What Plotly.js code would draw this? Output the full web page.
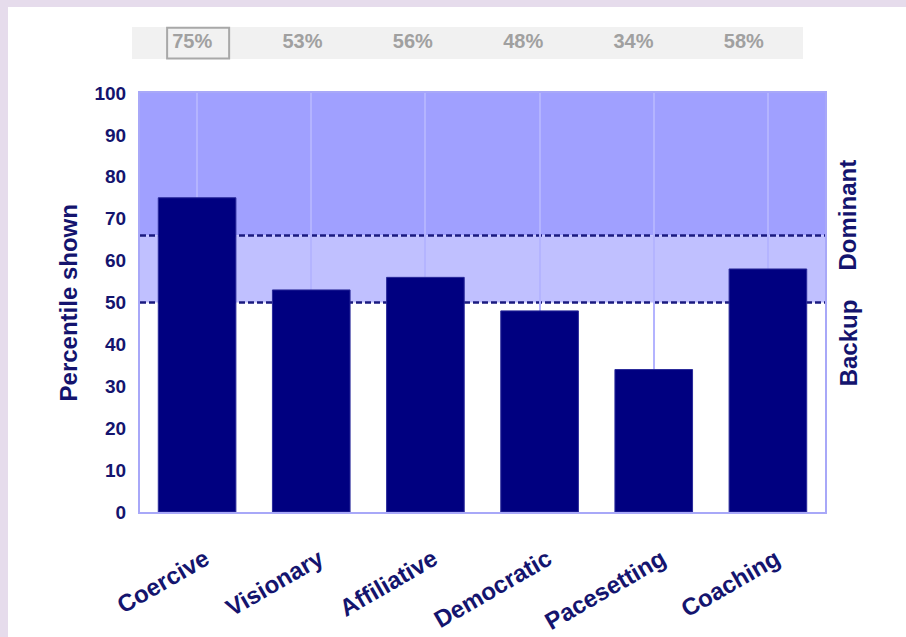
<!DOCTYPE html>
<html>
<head>
<meta charset="utf-8">
<script src="https://cdn.plot.ly/plotly-3.0.1.min.js"></script>
<style>
  html, body { margin: 0; padding: 0; background: #e6dcec; width: 906px; height: 637px; overflow: hidden; }
  #chart { position: absolute; left: 8px; top: 7px; width: 898px; height: 630px; background: #ffffff; }
</style>
</head>
<body>
<div id="chart"></div>
<script>
// ---- data ----
const styles = ["Coercive", "Visionary", "Affiliative", "Democratic", "Pacesetting", "Coaching"];
const percentiles = [75, 53, 56, 48, 34, 58];
const backupLevel = 50;     // lower dashed line
const dominantLevel = 66;   // upper dashed line
const yTicks = [0, 10, 20, 30, 40, 50, 60, 70, 80, 90, 100];
const bandLabels = ["Dominant", "Backup"];
const bandLabelValues = [71, 40.5];
const highlightIndex = 0;

const navy = "#14146e";
const FONT = "Arial, 'Liberation Sans', sans-serif";

const barTrace = {
  type: "bar",
  x: styles,
  y: percentiles,
  width: 0.68,
  marker: { color: "#000080", line: { color: "#2a2a9a", width: 1 } },
  hoverinfo: "x+y",
  xaxis: "x", yaxis: "y",
  showlegend: false
};

const pctTrace = {
  type: "scatter",
  mode: "text",
  x: styles,
  y: styles.map(() => 0.5),
  text: percentiles.map(v => v + "%"),
  textposition: "middle center",
  textfont: { family: FONT, size: 20, color: "#a0a0a0", weight: "bold" },
  xaxis: "x2", yaxis: "y2",
  hoverinfo: "skip",
  showlegend: false
};

const shapes = [
  // dominant band
  { type: "rect", xref: "x domain", yref: "y", x0: 0, x1: 1.002, y0: dominantLevel, y1: 100,
    fillcolor: "#a0a0ff", line: { width: 0 }, layer: "below" },
  // backup band
  { type: "rect", xref: "x domain", yref: "y", x0: 0, x1: 1.002, y0: backupLevel, y1: dominantLevel,
    fillcolor: "#c0c0ff", line: { width: 0 }, layer: "below" },
  // dashed lines
  { type: "line", xref: "x domain", yref: "y", x0: 0, x1: 1, y0: dominantLevel, y1: dominantLevel,
    line: { color: "#1a1a80", width: 2.5, dash: "6px,3px" }, layer: "below" },
  { type: "line", xref: "x domain", yref: "y", x0: 0, x1: 1, y0: backupLevel, y1: backupLevel,
    line: { color: "#1a1a80", width: 2.5, dash: "6px,3px" }, layer: "below" },
  // percentage strip background
  { type: "rect", xref: "x2 domain", yref: "y2 domain", x0: -0.0076, x1: 1.006, y0: 0, y1: 1,
    fillcolor: "#f1f1f1", line: { width: 0 }, layer: "below" },
  // highlight box around first percentage
  { type: "rect", xref: "x2", yref: "y2 domain", x0: highlightIndex - 0.227, x1: highlightIndex + 0.335, y0: 0.02, y1: 0.98,
    fillcolor: "rgba(0,0,0,0)", line: { color: "#a8a8a8", width: 2 }, layer: "above" }
];

const annotations = bandLabels.map((t, i) => ({
  text: t,
  xref: "paper", yref: "y",
  x: 0.9664, y: bandLabelValues[i],
  xanchor: "center", yanchor: "middle",
  textangle: -90,
  showarrow: false,
  font: { family: FONT, size: 24, color: navy, weight: "bold" }
}));
annotations.push({
  text: "Percentile shown",
  xref: "paper", yref: "paper",
  x: -0.0401, y: 0.4258,
  xanchor: "center", yanchor: "middle",
  textangle: -90,
  showarrow: false,
  font: { family: FONT, size: 24, color: navy, weight: "bold" }
});

const layout = {
  width: 898, height: 630,
  margin: { l: 92, r: 32, t: 13, b: 125 },
  paper_bgcolor: "#ffffff",
  plot_bgcolor: "rgba(0,0,0,0)",
  font: { family: FONT, color: navy },
  bargap: 0.32,
  xaxis: {
    domain: [0.05168, 0.93669],
    type: "category",
    showgrid: true, gridcolor: "#b4b4ff", gridwidth: 2,
    showline: true, mirror: true, linecolor: "#a8a8f8", linewidth: 2,
    ticks: "", tickangle: -30,
    ticklabelstandoff: 22, ticklabelshift: 8,
    tickfont: { family: FONT, size: 24, color: navy, weight: "bold" },
    zeroline: false, automargin: false, fixedrange: true
  },
  yaxis: {
    domain: [0, 0.8516],
    range: [0, 100],
    tickvals: yTicks,
    showgrid: false, zeroline: false,
    showline: true, mirror: true, linecolor: "#a8a8f8", linewidth: 2,
    ticks: "", ticklabelstandoff: 8,
    tickfont: { family: FONT, size: 19, color: navy, weight: "bold" },
    automargin: false, fixedrange: true
  },
  xaxis2: {
    domain: [0.0478, 0.9031],
    type: "category",
    range: [-0.5, styles.length - 0.5],
    anchor: "y2",
    visible: false, automargin: false, fixedrange: true
  },
  yaxis2: {
    domain: [0.9207, 0.9858],
    range: [0, 1],
    anchor: "x2",
    visible: false, automargin: false, fixedrange: true
  },
  shapes: shapes,
  annotations: annotations,
  showlegend: false
};

Plotly.newPlot("chart", [barTrace, pctTrace], layout, { displayModeBar: false, staticPlot: true });
</script>
</body>
</html>
